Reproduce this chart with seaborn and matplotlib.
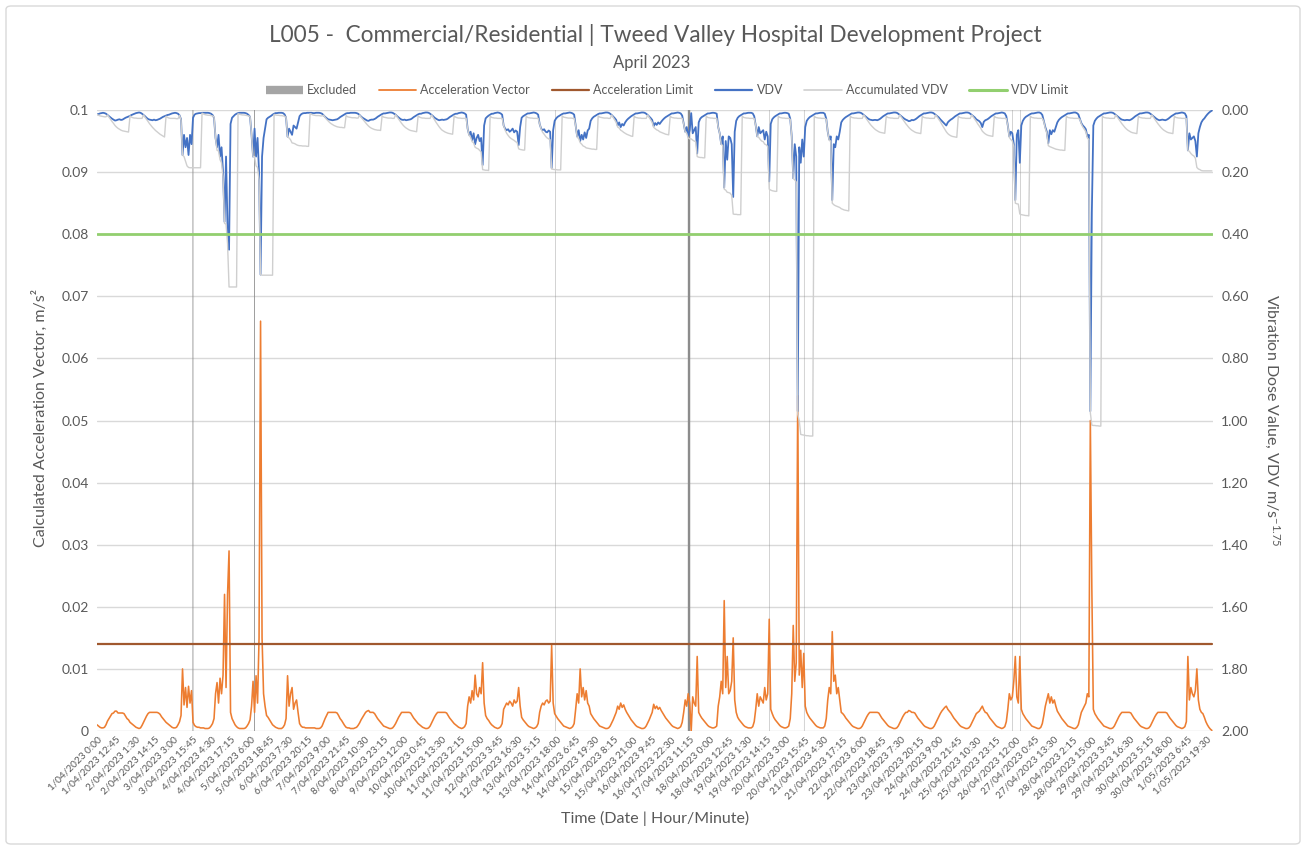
import numpy as np
import matplotlib
matplotlib.use("Agg")
import matplotlib.pyplot as plt
import seaborn as sns
from datetime import datetime
from matplotlib.lines import Line2D
from matplotlib.patches import FancyBboxPatch

# ---------------- data (hourly, 1/04/2023 0:00 ... 1/05/2023 23:00) ----------------
START = "1/04/2023 0:00"
N_DAYS = 31

# Calculated acceleration vector, units of 1e-4 m/s2, one row per day (24 hourly values)
ACC_E4 = [
    [10,8,6,5,5,6,10,16,20,24,28,29,32,32,29,29,29,29,28,24,20,18,14,12],
    [10,8,6,5,4,5,9,14,19,24,28,30,30,30,30,30,30,29,27,23,20,17,14,12],
    [10,8,6,5,5,6,10,15,25,100,42,70,38,72,45,65,14,9,7,6,6,5,5,5],
    [4,4,4,5,8,12,20,60,78,45,85,60,90,220,70,220,290,30,20,15,10,7,5,4],
    [4,4,4,5,8,12,18,40,80,30,89,45,150,660,150,60,40,25,22,18,14,10,8,6],
    [5,4,4,4,6,10,20,89,40,60,70,35,45,50,30,12,8,6,6,5,5,5,5,5],
    [5,5,4,4,4,5,8,14,20,25,30,30,30,30,30,30,29,25,20,17,13,9,6,5],
    [5,4,4,4,5,6,9,13,18,22,26,30,32,33,30,30,30,28,24,20,17,14,11,8],
    [7,6,5,4,4,5,8,12,17,22,26,30,30,30,30,30,30,29,25,21,18,15,12,10],
    [8,6,5,4,4,5,8,13,18,23,27,30,30,30,30,30,30,29,25,21,18,15,12,10],
    [8,6,5,4,5,7,12,40,55,45,65,50,90,60,55,70,60,110,45,25,20,17,13,10],
    [8,6,5,4,5,7,12,35,40,45,42,48,45,40,50,45,48,70,40,22,18,15,12,9],
    [7,6,5,4,5,7,12,30,40,45,42,48,50,45,48,138,45,28,24,20,17,14,11,8],
    [7,6,5,4,5,7,12,35,60,45,100,55,70,50,65,45,40,28,24,20,17,14,11,8],
    [7,6,5,4,4,5,8,13,18,24,30,40,35,45,38,42,35,30,26,22,18,15,12,9],
    [7,6,5,4,4,5,8,13,18,24,30,43,36,40,35,38,33,29,25,21,18,15,12,9],
    [7,6,5,4,5,7,14,30,50,40,60,45,0,55,45,40,120,30,25,21,18,15,12,9],
    [7,6,5,5,6,8,40,55,80,60,210,70,120,60,65,80,150,50,30,22,18,15,12,9],
    [7,6,5,5,5,7,15,35,60,40,55,50,45,70,50,60,180,35,28,22,18,15,12,9],
    [7,6,5,5,6,8,20,60,170,80,110,540,90,130,70,125,40,30,25,21,18,15,12,9],
    [7,6,5,5,5,8,20,50,70,60,160,80,90,60,70,50,30,28,25,21,18,15,12,9],
    [7,6,5,4,4,5,8,13,18,23,27,30,30,30,30,30,30,29,25,21,18,15,12,9],
    [7,6,5,4,4,5,8,13,18,23,27,30,30,33,32,30,30,29,25,21,18,15,12,9],
    [7,6,5,4,4,5,8,13,18,23,28,32,35,38,40,35,32,29,25,21,18,15,12,9],
    [7,6,5,4,4,5,8,13,18,23,28,30,32,36,40,34,30,29,25,21,18,15,12,9],
    [7,6,5,4,5,7,15,35,60,50,55,80,120,55,45,120,35,28,24,20,17,14,11,8],
    [7,6,5,4,4,6,12,25,40,50,60,45,55,45,50,40,32,28,24,20,17,14,11,8],
    [7,6,5,4,4,6,10,20,30,35,40,45,60,55,500,230,35,28,24,20,17,14,11,8],
    [7,6,5,4,4,5,8,13,18,23,27,30,30,30,30,30,30,29,25,21,18,15,12,9],
    [7,6,5,4,4,5,8,13,18,23,27,30,30,30,30,30,30,29,25,21,18,15,12,9],
    [7,6,5,4,5,7,15,120,50,70,60,55,65,100,50,35,30,28,22,15,10,6,3,1],
]

# VDV, units of 1e-3 m/s^1.75
VDV_E3 = [
    [14,13,11,10,9,10,12,16,20,24,28,31,34,33,31,30,32,31,28,25,23,21,19,16],
    [14,12,10,9,8,9,12,16,20,25,29,31,32,33,31,33,32,30,28,25,22,20,18,16],
    [15,13,11,10,9,10,12,17,30,145,80,120,90,145,80,110,25,15,12,11,10,10,9,9],
    [9,9,9,10,12,16,25,90,120,80,150,120,200,360,150,380,450,45,25,20,15,12,10,9],
    [9,9,9,10,12,16,22,80,150,60,150,90,200,530,150,90,60,30,25,22,19,15,12,10],
    [10,9,9,9,10,14,25,86,60,70,80,50,55,60,40,20,14,11,10,10,9,9,9,9],
    [10,10,9,9,9,10,12,17,22,26,30,31,32,33,32,31,30,27,23,20,17,14,11,10],
    [10,9,9,9,9,10,12,16,21,25,28,31,34,35,32,31,31,29,26,22,19,16,13,11],
    [11,10,9,8,8,9,12,15,20,24,28,31,32,31,33,32,31,30,27,23,20,17,14,12],
    [12,10,9,8,8,9,12,16,20,25,28,31,33,32,31,32,31,30,27,23,20,17,14,12],
    [12,10,9,8,9,11,15,60,80,70,97,75,110,90,80,100,90,177,50,27,22,18,15,12],
    [12,10,9,8,9,11,15,50,60,65,62,70,66,60,72,66,70,113,55,25,20,17,14,11],
    [11,10,9,8,9,11,15,45,60,65,62,70,72,66,70,187,65,35,27,22,19,16,13,11],
    [11,10,9,8,9,11,15,50,85,65,100,80,95,72,90,66,60,35,27,22,19,16,13,11],
    [11,10,9,8,8,9,12,16,21,26,32,50,40,55,45,50,40,33,28,24,20,17,14,11],
    [11,10,9,8,8,9,12,16,21,26,32,52,42,48,40,45,38,32,27,23,20,17,14,11],
    [11,10,9,8,9,11,18,45,70,55,85,65,10,75,65,55,140,40,28,23,20,17,14,11],
    [11,10,9,9,10,12,55,75,110,85,250,100,160,85,90,110,280,70,35,25,20,17,14,11],
    [11,10,9,9,9,11,20,50,85,55,75,70,65,95,70,85,230,45,30,24,20,17,14,11],
    [11,10,9,9,10,12,28,85,220,110,150,970,120,170,95,150,55,35,28,23,20,17,14,11],
    [11,10,9,9,9,12,28,70,95,85,290,110,120,85,95,70,40,32,27,23,20,17,14,11],
    [11,10,9,8,8,9,12,16,20,24,28,31,32,33,32,32,33,31,28,24,20,17,14,11],
    [11,10,9,8,8,9,12,16,20,24,28,31,33,36,35,32,33,31,28,24,20,17,14,11],
    [11,10,9,8,8,9,12,16,20,24,30,35,40,45,50,40,35,31,28,24,20,17,14,11],
    [11,10,9,8,8,9,12,16,20,24,30,33,36,42,55,38,33,31,28,24,20,17,14,11],
    [11,10,9,8,9,11,20,50,85,70,75,110,290,80,65,170,50,35,27,22,19,16,13,11],
    [11,10,9,8,8,10,16,35,55,70,107,65,78,65,70,55,40,32,27,23,20,17,14,11],
    [11,10,9,8,8,10,14,28,42,50,55,62,85,80,970,330,50,35,28,23,20,17,14,11],
    [11,10,9,8,8,9,12,16,20,24,28,31,32,33,32,32,33,31,28,24,20,17,14,11],
    [11,10,9,8,8,9,12,16,20,24,28,31,33,32,31,32,33,31,28,24,20,17,14,11],
    [11,10,9,8,9,11,20,130,75,95,90,85,100,150,75,55,40,32,27,20,14,9,5,2],
]

# Accumulated VDV, units of 1e-3 m/s^1.75 (day 7:00-22:00, night 22:00-7:00)
ACCUM_E3 = [
    [14,17,19,20,21,22,22,16,23,30,37,43,50,55,59,62,65,67,68,69,70,71,19,23],
    [25,26,26,27,27,27,27,16,23,30,37,44,50,56,61,66,70,74,78,81,84,87,20,24],
    [26,27,27,27,27,28,28,17,32,145,150,165,180,185,186,186,186,186,186,186,186,186,10,13],
    [15,16,17,17,18,19,22,90,130,132,160,170,215,365,368,430,570,570,570,570,570,570,12,14],
    [15,16,16,17,18,19,21,80,150,150,180,185,225,530,532,532,532,532,532,532,532,532,14,16],
    [17,17,18,18,19,20,24,86,90,96,106,107,109,112,114,115,115,116,116,116,117,117,12,14],
    [16,17,18,18,18,19,19,17,24,30,35,40,44,47,50,52,54,55,56,56,57,57,18,22],
    [23,24,25,25,25,26,26,16,23,29,35,41,47,52,56,59,61,63,64,65,65,66,19,23],
    [24,25,26,26,26,27,27,15,22,29,36,43,49,54,58,61,64,66,67,68,69,70,19,23],
    [25,26,26,27,27,27,27,16,24,32,40,47,54,60,65,68,71,73,75,76,77,78,19,23],
    [25,26,26,27,27,27,27,60,82,88,102,106,120,123,125,130,135,192,193,194,194,195,20,24],
    [25,26,26,27,27,27,27,50,65,75,82,88,92,95,98,102,105,125,127,128,129,129,20,24],
    [25,26,26,27,27,27,27,45,62,72,78,85,90,93,96,190,191,192,192,193,193,193,19,23],
    [24,25,26,26,26,27,27,50,88,92,105,110,116,118,122,123,124,125,126,126,127,127,19,23],
    [24,25,26,26,26,27,27,16,24,32,40,55,58,65,68,72,75,78,80,82,84,85,20,24],
    [25,26,26,27,27,27,27,16,24,32,40,56,60,64,66,70,72,74,76,78,79,80,20,24],
    [25,26,26,27,27,27,27,45,70,75,90,93,93,97,100,102,150,152,153,153,154,154,20,24],
    [25,26,26,27,27,27,55,75,110,115,255,258,265,266,268,275,335,336,336,337,337,337,20,24],
    [25,26,26,27,27,27,28,50,85,88,95,100,102,110,112,118,255,258,260,261,262,262,20,24],
    [25,26,26,27,27,27,30,85,220,225,232,980,1000,1045,1046,1047,1048,1049,1049,1050,1050,1050,20,24],
    [25,26,26,27,27,27,30,70,98,100,300,305,308,310,312,314,318,320,322,323,324,325,20,24],
    [25,26,26,27,27,27,27,16,23,30,37,44,50,55,60,64,67,70,72,73,74,75,20,24],
    [25,26,26,27,27,27,27,16,23,30,37,44,50,56,61,65,68,71,73,74,75,76,20,24],
    [25,26,26,27,27,27,27,16,23,30,37,46,54,62,70,76,80,83,85,86,87,88,20,24],
    [25,26,26,27,27,27,27,16,23,30,37,45,52,59,68,73,77,80,82,83,84,85,20,24],
    [25,26,26,27,27,27,28,50,88,95,100,118,300,302,303,335,337,338,339,340,340,341,20,24],
    [25,26,26,27,27,27,27,38,60,75,115,118,120,122,124,126,127,128,129,129,130,130,20,24],
    [25,26,26,27,27,27,27,30,45,55,62,70,90,95,975,1015,1016,1016,1017,1017,1018,1018,20,24],
    [25,26,26,27,27,27,27,16,23,30,37,44,50,56,61,65,68,71,73,74,75,76,20,24],
    [25,26,26,27,27,27,27,16,23,30,37,44,50,56,61,65,68,71,73,74,75,76,20,24],
    [25,26,26,27,27,27,28,130,133,140,145,148,155,185,190,192,195,196,196,196,196,196,196,196],
]

ACC_LIMIT = 0.014
VDV_LIMIT = 0.40

# Excluded periods (start time, duration in hours), drawn as full-height columns
EXCL_START = ["3/04/2023 15:40", "5/04/2023 8:40", "13/04/2023 17:20", "17/04/2023 9:45",
              "19/04/2023 16:10", "20/04/2023 15:10", "26/04/2023 10:10", "26/04/2023 15:10"]
EXCL_HOURS = [0.55, 0.55, 0.25, 1.6, 0.25, 0.25, 0.25, 0.25]
EXCL_VALUE = 0.1

XLABELS = ["1/04/2023 0:00","1/04/2023 12:45","2/04/2023 1:30","2/04/2023 14:15","3/04/2023 3:00",
    "3/04/2023 15:45","4/04/2023 4:30","4/04/2023 17:15","5/04/2023 6:00","5/04/2023 18:45",
    "6/04/2023 7:30","6/04/2023 20:15","7/04/2023 9:00","7/04/2023 21:45","8/04/2023 10:30",
    "8/04/2023 23:15","9/04/2023 12:00","10/04/2023 0:45","10/04/2023 13:30","11/04/2023 2:15",
    "11/04/2023 15:00","12/04/2023 3:45","12/04/2023 16:30","13/04/2023 5:15","13/04/2023 18:00",
    "14/04/2023 6:45","14/04/2023 19:30","15/04/2023 8:15","15/04/2023 21:00","16/04/2023 9:45",
    "16/04/2023 22:30","17/04/2023 11:15","18/04/2023 0:00","18/04/2023 12:45","19/04/2023 1:30",
    "19/04/2023 14:15","20/04/2023 3:00","20/04/2023 15:45","21/04/2023 4:30","21/04/2023 17:15",
    "22/04/2023 6:00","22/04/2023 18:45","23/04/2023 7:30","23/04/2023 20:15","24/04/2023 9:00",
    "24/04/2023 21:45","25/04/2023 10:30","25/04/2023 23:15","26/04/2023 12:00","27/04/2023 0:45",
    "27/04/2023 13:30","28/04/2023 2:15","28/04/2023 15:00","29/04/2023 3:45","29/04/2023 16:30",
    "30/04/2023 5:15","30/04/2023 18:00","1/05/2023 6:45","1/05/2023 19:30"]

TITLE = "L005 -  Commercial/Residential | Tweed Valley Hospital Development Project"
SUBTITLE = "April 2023"

# ---------------- helpers ----------------
FMT = "%d/%m/%Y %H:%M"
t0 = datetime.strptime(START, FMT)
def hours_of(s):
    return (datetime.strptime(s, FMT) - t0).total_seconds() / 3600.0

hours = np.arange(N_DAYS * 24, dtype=float)
acc = np.array(ACC_E4, dtype=float).ravel() * 1e-4
vdv = np.array(VDV_E3, dtype=float).ravel() * 1e-3
accum = np.array(ACCUM_E3, dtype=float).ravel() * 1e-3

# ---------------- style ----------------
sns.set_theme(style="white")
plt.rcParams["font.family"] = ["Lato", "DejaVu Sans"]
plt.rcParams["mathtext.fontset"] = "custom"
plt.rcParams["mathtext.rm"] = "Lato"
plt.rcParams["mathtext.it"] = "Lato:italic"
TXT = "#595959"
GRID = "#D9D9D9"
C_ACC = "#ED7D31"
C_ACCLIM = "#A0582E"
C_VDV = "#4472C4"
C_ACCUM = "#CFCFCF"
C_VDVLIM = "#92CF6F"
C_EXCL = "#8C8C8C"

W, H = 1307, 848
fig = plt.figure(figsize=(W / 100, H / 100), dpi=100)
L, R, T, B = 97, 1213, 110, 731
ax = fig.add_axes([L / W, 1 - B / H, (R - L) / W, (B - T) / H])
ax.set_facecolor("none")

# border of the chart area
fig.patches.append(FancyBboxPatch((6 / W, 4 / H), 1294 / W, 838 / H,
                                  boxstyle="round,pad=0,rounding_size=0.004",
                                  transform=fig.transFigure, fc="white",
                                  ec=GRID, lw=1.0, zorder=-10))

# gridlines (primary axis)
ax.set_ylim(0, 0.1)
ax.set_xlim(0, hours[-1] + 0.75)
ax.set_yticks(np.round(np.arange(0, 0.1001, 0.01), 3))
ax.yaxis.grid(True, color=GRID, lw=1.0)
ax.xaxis.grid(False)
ax.set_axisbelow(True)

# excluded columns
excl_x = [hours_of(s) for s in EXCL_START]
bars = ax.bar(excl_x, [EXCL_VALUE] * len(excl_x), width=EXCL_HOURS, align="edge",
              color=C_EXCL, lw=0, zorder=1.5)
for b in bars:
    b.set_snap(False)

# acceleration vector + limit
sns.lineplot(x=hours, y=acc, ax=ax, color=C_ACC, lw=1.15, estimator=None, zorder=3)
sns.lineplot(x=hours, y=np.full_like(hours, ACC_LIMIT), ax=ax, color=C_ACCLIM, lw=1.6,
             estimator=None, zorder=3)

# secondary axis
ax2 = ax.twinx()
ax2.set_ylim(2.0, 0.0)
sns.lineplot(x=hours, y=vdv, ax=ax2, color=C_VDV, lw=1.3, estimator=None, zorder=3)
sns.lineplot(x=hours, y=accum, ax=ax2, color=C_ACCUM, lw=1.0, estimator=None, zorder=4)
sns.lineplot(x=hours, y=np.full_like(hours, VDV_LIMIT), ax=ax2, color=C_VDVLIM, lw=2.0,
             estimator=None, zorder=5)
ax2.set_xlim(ax.get_xlim())
ax2.set_yticks(np.round(np.arange(0, 2.001, 0.2), 2))
ax2.set_yticklabels([f"{v:.2f}" for v in np.arange(0, 2.001, 0.2)])

for a in (ax, ax2):
    for s in a.spines.values():
        s.set_visible(False)
    a.tick_params(length=0, colors=TXT)
    a.set_xlabel("")
    a.set_ylabel("")

ax.set_yticklabels([f"{v:.2f}".rstrip("0").rstrip(".") for v in ax.get_yticks()],
                   fontsize=10, color=TXT)
ax2.tick_params(axis="y", labelsize=10, pad=6)
ax.tick_params(axis="y", pad=6)

# x ticks
ax.set_xticks([hours_of(s) for s in XLABELS])
ax.set_xticklabels(XLABELS, rotation=45, ha="right", rotation_mode="anchor",
                   fontsize=7.2, color=TXT)
ax.tick_params(axis="x", pad=3)

# labels and titles
fig.text(655 / W, 1 - 35 / H, TITLE, ha="center", va="center", fontsize=16.3, color=TXT)
fig.text(652 / W, 1 - 63 / H, SUBTITLE, ha="center", va="center", fontsize=12, color=TXT)
fig.text(655 / W, 1 - 818 / H, "Time (Date | Hour/Minute)", ha="center", va="center",
         fontsize=11.5, color=TXT)
fig.text(40 / W, 1 - 418 / H, "Calculated Acceleration Vector, m/s²", ha="center",
         va="center", rotation=90, fontsize=11.5, color=TXT)
fig.text(1272 / W, 1 - 420 / H, r"Vibration Dose Value, VDV m/s$^{-1.75}$", ha="center",
         va="center", rotation=270, fontsize=11.5, color=TXT)

# legend
handles = [Line2D([], [], color="#A5A5A5", lw=6, solid_capstyle="butt"),
           Line2D([], [], color=C_ACC, lw=1.3),
           Line2D([], [], color=C_ACCLIM, lw=1.6),
           Line2D([], [], color=C_VDV, lw=1.6),
           Line2D([], [], color=C_ACCUM, lw=1.2),
           Line2D([], [], color=C_VDVLIM, lw=2.2)]
labels = ["Excluded", "Acceleration Vector", "Acceleration Limit", "VDV",
          "Accumulated VDV", "VDV Limit"]
leg = fig.legend(handles, labels, loc="center", bbox_to_anchor=(667 / W, 1 - 90 / H),
                 ncol=6, frameon=False, fontsize=9, handlelength=3.0,
                 handletextpad=0.35, columnspacing=1.7)
for t in leg.get_texts():
    t.set_color(TXT)

fig.savefig("out.png", dpi=100, facecolor="white")
